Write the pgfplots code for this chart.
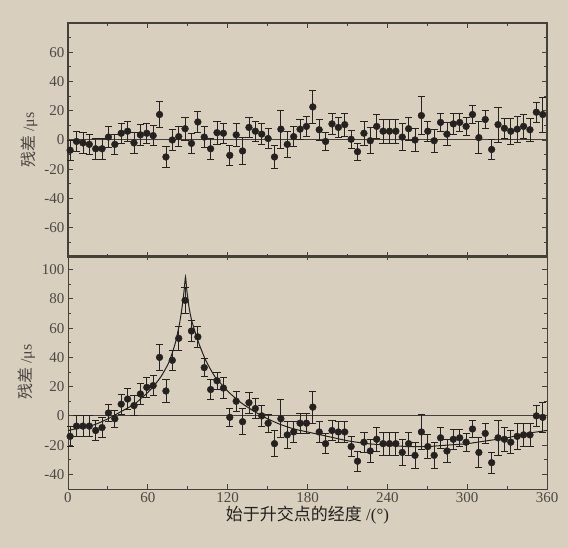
\documentclass[border=0pt]{standalone}
\usepackage{fontspec}
\setmainfont{Liberation Serif}
\newfontfamily\cjk{Noto Sans CJK SC}
\usepackage{pgfplots}
\pgfplotsset{compat=1.18}
\usepackage{pgfplotstable}
\definecolor{paper}{HTML}{D8CFBF}
\definecolor{ink}{HTML}{24211E}
\definecolor{frame}{HTML}{46403A}
\definecolor{lab}{HTML}{4E4843}

\pgfplotstableread{
x y e
1.6 -7 7
6.4 -1 7
11.2 -2 7
16.0 -3 7
20.8 -6 7
25.6 -6 7
30.4 2 7
35.2 -3 7
40.0 4.6 7
44.8 6 7
49.6 -2 7
54.4 3.5 7
59.2 4.6 7
64.0 3 7
68.8 17.4 9
73.6 -11.6 7
78.4 0 7
83.2 2.3 7
88.0 7.7 8
92.8 -2.3 7
97.6 12.3 7
102.4 2 7
107.2 -6 7
112.0 5 8
116.8 4.6 7
121.6 -10.5 7
126.4 3.5 8
131.2 -7.5 9
136.0 8.6 7
140.8 6 7
145.6 4 7
150.4 1 7
155.2 -11.6 8
160.0 7.4 13
164.8 -3 9
169.6 2.3 7
174.4 7.4 7
179.2 9.3 7
184.0 22.6 11
188.8 7 7
193.6 -1 6
198.4 11 7
203.2 8.6 7
208.0 10.5 8
212.8 0.5 6
217.6 -8 6
222.4 4.6 8
227.2 -0.5 9
232.0 9.3 8
236.8 6 8
241.6 6 8
246.4 6 8
251.2 2 9
256.0 7.7 8
260.8 0 8
265.6 16.7 13
270.4 6 7
275.2 -0.5 8
280.0 12 6
284.8 4 8
289.6 11 7
294.4 12 6
299.2 9.3 6
304.0 17.4 6
308.8 1.6 11
313.6 14 6
318.4 -6.5 7
323.2 10.5 12
328.0 8 7
332.8 6 9
337.6 7.4 9
342.4 9.3 8
347.2 7 8
352.0 19 7
356.8 17.4 12
}\toptab

\pgfplotstableread{
x y e
1.6 -14 7
6.4 -7 7
11.2 -7 7
16.0 -7 7
20.8 -10 7
25.6 -8 7
30.4 2 6
35.2 -2 6
40.0 8 7
44.8 11.5 7
49.6 7 7
54.4 15 7
59.2 19.5 7
64.0 20.7 7
68.8 40 9
73.6 17 8
78.4 38 7
83.2 53 8
88.0 79 9
92.8 58 7
97.6 54 7
102.4 33 6
107.2 18 7
112.0 24 6
116.8 19 7
121.6 -1 6
126.4 10 7
131.2 -4 9
136.0 9 7
140.8 5 7
145.6 0 7
150.4 -5 6
155.2 -19 9
160.0 -2 13
164.8 -13 9
169.6 -11 7
174.4 -5 7
179.2 -5 7
184.0 6 11
188.8 -11 7
193.6 -19 7
198.4 -10 7
203.2 -11 7
208.0 -11 7
212.8 -21 7
217.6 -31 7
222.4 -18 7
227.2 -24 8
232.0 -16 8
236.8 -19 8
241.6 -19 8
246.4 -19 8
251.2 -25 9
256.0 -19 8
260.8 -27 9
265.6 -11 12
270.4 -21 8
275.2 -27 9
280.0 -15 7
284.8 -24 8
289.6 -16 7
294.4 -15 6
299.2 -18 6
304.0 -9 6
308.8 -25 10
313.6 -12 7
318.4 -32 7
323.2 -15 12
328.0 -16 8
332.8 -18 8
337.6 -14 9
342.4 -13 8
347.2 -13 8
352.0 0 7
356.8 -1 10
}\bottab

\begin{document}
\begin{tikzpicture}
\fill[paper] (0pt,0pt) rectangle (568pt,548pt);
\pgfplotsset{
  myax/.style={
    scale only axis, width=479pt, height=234pt,
    xmin=0, xmax=360,
    xtick={0,60,...,360}, minor xtick={30,90,...,330},
    tick align=inside,
    major tick length=5pt, minor tick length=3pt,
    axis line style={frame, line width=1.1pt},
    every tick/.style={frame, line width=0.9pt},
    tick label style={font=\fontsize{15}{17}\selectfont, text=lab},
    /pgf/number format/assume math mode=true,
    ylabel style={font=\fontsize{16}{18}\selectfont, text=lab, yshift=0pt},
    ylabel={{\cjk 残差} /μs},
    clip=false,
  },
  datstyle/.style={ink, only marks, mark=*, mark size=3.4pt,
    error bars/.cd, y dir=both, y explicit,
    error bar style={line width=0.8pt, ink},
    error mark options={rotate=90, mark size=3.6pt, line width=0.8pt, ink}},
}
\begin{axis}[myax, at={(68pt,291pt)}, anchor=south west,
  ymin=-80, ymax=80, ytick={-60,-40,...,60}, minor ytick={-70,-50,...,70},
  xticklabels={}]
\addplot[frame, line width=1pt] coordinates {(0,0) (360,0)};
\addplot[datstyle] table[x=x, y=y, y error=e] {\toptab};
\end{axis}
\begin{axis}[myax, at={(68pt,59pt)}, anchor=south west,
  ymin=-50, ymax=110, ytick={-40,-20,...,100}, minor ytick={-30,-10,...,90},
  axis line style={frame, line width=0.9pt},
  xlabel={{\cjk 始于升交点的经度} /(°)},
  xlabel style={font=\fontsize{17}{19}\selectfont, text=ink, yshift=3pt}]
\addplot[frame, line width=1pt] coordinates {(0,0) (360,0)};
\addplot[ink, line width=1pt, smooth, tension=0.35] coordinates {
(0,-10) (10,-8) (20,-6) (30,-2) (40,3) (50,8) (55,12) (60,16) (65,21) (70,27) (75,35) (78,42) (81,51) (84,64) (86,76) (87.3,86) (88.3,95) (89.3,86) (91,74) (93,65) (96,56) (99,48) (103,39) (107,32) (111,26) (116,21) (121,16) (130,9) (140,3) (150,-2) (160,-6) (170,-9) (180,-11) (195,-14) (210,-17) (225,-19) (240,-20) (255,-21) (270,-21) (285,-20) (300,-19) (315,-17) (330,-15) (345,-12) (360,-10)};
\addplot[datstyle] table[x=x, y=y, y error=e] {\bottab};
\end{axis}
\end{tikzpicture}
\end{document}
